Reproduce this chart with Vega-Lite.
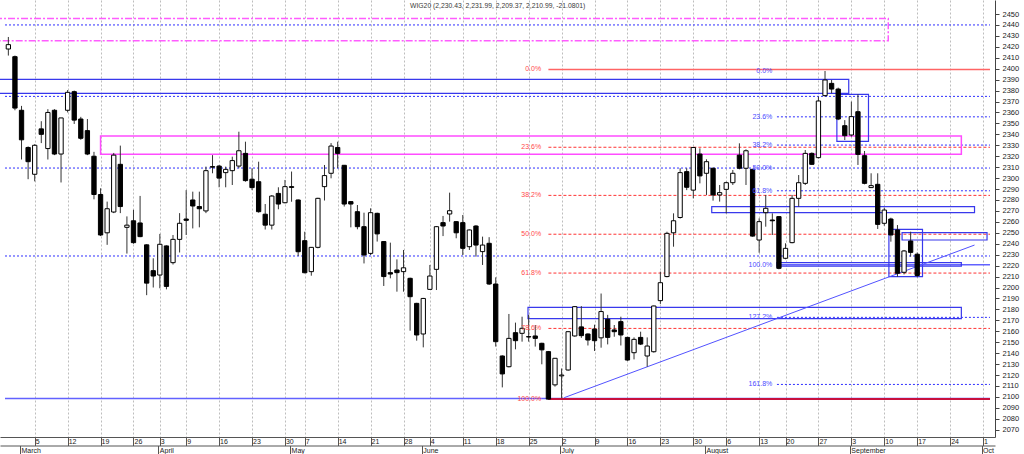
{
  "$schema": "https://vega.github.io/schema/vega-lite/v6.json",
  "width": 995,
  "height": 437,
  "autosize": {"type": "none"},
  "padding": {"left": 0, "top": 0, "right": 29, "bottom": 17},
  "background": "white",
  "config": {"view": {"stroke": null}, "font": "Liberation Sans", "axis": {"labelOverlap": false, "labelFlush": false}},
  "datasets": {
    "candles": [
      {"d": 1, "o": 2418, "h": 2429, "l": 2412, "c": 2422},
      {"d": 2, "o": 2411, "h": 2412, "l": 2362, "c": 2364},
      {"d": 3, "o": 2362, "h": 2366, "l": 2317, "c": 2335},
      {"d": 4, "o": 2328, "h": 2329, "l": 2299, "c": 2315},
      {"d": 5, "o": 2303.5, "h": 2331, "l": 2297, "c": 2330},
      {"d": 6, "o": 2345, "h": 2352, "l": 2332, "c": 2340},
      {"d": 7, "o": 2327, "h": 2363, "l": 2317, "c": 2360},
      {"d": 8, "o": 2362, "h": 2363, "l": 2321, "c": 2322},
      {"d": 9, "o": 2322, "h": 2355, "l": 2296, "c": 2355},
      {"d": 10, "o": 2362, "h": 2380.5, "l": 2360, "c": 2378.4},
      {"d": 11, "o": 2379, "h": 2380, "l": 2349.5, "c": 2353},
      {"d": 12, "o": 2354, "h": 2356, "l": 2335, "c": 2336.4},
      {"d": 13, "o": 2343.4, "h": 2354, "l": 2321, "c": 2322},
      {"d": 14, "o": 2320, "h": 2324, "l": 2280.6, "c": 2285},
      {"d": 15, "o": 2285, "h": 2290.7, "l": 2247, "c": 2248},
      {"d": 16, "o": 2250, "h": 2278.5, "l": 2239, "c": 2272},
      {"d": 17, "o": 2269, "h": 2323, "l": 2268, "c": 2321},
      {"d": 18, "o": 2312.6, "h": 2329.7, "l": 2268, "c": 2274},
      {"d": 19, "o": 2255, "h": 2265, "l": 2231, "c": 2257},
      {"d": 20, "o": 2261, "h": 2271, "l": 2240, "c": 2241},
      {"d": 21, "o": 2259, "h": 2283.7, "l": 2246, "c": 2246.5},
      {"d": 22, "o": 2239, "h": 2239.5, "l": 2193, "c": 2204},
      {"d": 23, "o": 2215.4, "h": 2226.7, "l": 2200, "c": 2210.5},
      {"d": 24, "o": 2211.4, "h": 2249, "l": 2199.3, "c": 2239.5},
      {"d": 25, "o": 2238, "h": 2238.5, "l": 2198.3, "c": 2201},
      {"d": 26, "o": 2222.7, "h": 2248, "l": 2221, "c": 2244},
      {"d": 27, "o": 2244, "h": 2268, "l": 2232, "c": 2258.7},
      {"d": 28, "o": 2262.6, "h": 2289, "l": 2248, "c": 2261.4},
      {"d": 29, "o": 2280, "h": 2287.6, "l": 2254, "c": 2274.5},
      {"d": 30, "o": 2274, "h": 2287.6, "l": 2255, "c": 2272},
      {"d": 31, "o": 2270, "h": 2310.5, "l": 2268, "c": 2306.8},
      {"d": 32, "o": 2310.5, "h": 2321, "l": 2304.4, "c": 2310},
      {"d": 33, "o": 2311, "h": 2312, "l": 2291.6, "c": 2300},
      {"d": 34, "o": 2305, "h": 2310.5, "l": 2291.6, "c": 2308},
      {"d": 35, "o": 2306.8, "h": 2319.6, "l": 2293.7, "c": 2316},
      {"d": 36, "o": 2311, "h": 2342.4, "l": 2309, "c": 2325},
      {"d": 37, "o": 2322.6, "h": 2333.3, "l": 2296.7, "c": 2297.7},
      {"d": 38, "o": 2299, "h": 2309, "l": 2289, "c": 2291.3},
      {"d": 39, "o": 2296.7, "h": 2315, "l": 2268.4, "c": 2269.3},
      {"d": 40, "o": 2267, "h": 2276.3, "l": 2253, "c": 2257},
      {"d": 41, "o": 2257, "h": 2284.5, "l": 2253, "c": 2283.6},
      {"d": 42, "o": 2286, "h": 2291.6, "l": 2271.5, "c": 2276.3},
      {"d": 43, "o": 2277.5, "h": 2298.3, "l": 2277, "c": 2292.2},
      {"d": 44, "o": 2292.2, "h": 2306, "l": 2278.4, "c": 2291.5},
      {"d": 45, "o": 2280, "h": 2280.5, "l": 2228.8, "c": 2232.7},
      {"d": 46, "o": 2242.8, "h": 2251, "l": 2213, "c": 2213.5},
      {"d": 47, "o": 2214.5, "h": 2237, "l": 2210.8, "c": 2236.7},
      {"d": 48, "o": 2236.7, "h": 2282, "l": 2235.8, "c": 2281.5},
      {"d": 49, "o": 2292.2, "h": 2312, "l": 2279.5, "c": 2302.3},
      {"d": 50, "o": 2304.4, "h": 2332, "l": 2299.8, "c": 2329.3},
      {"d": 51, "o": 2328, "h": 2333.3, "l": 2309, "c": 2322.6},
      {"d": 52, "o": 2311.7, "h": 2312, "l": 2274, "c": 2276.3},
      {"d": 53, "o": 2278.5, "h": 2279, "l": 2255, "c": 2276.3},
      {"d": 54, "o": 2269.3, "h": 2275.4, "l": 2253.2, "c": 2255.6},
      {"d": 55, "o": 2255.6, "h": 2268.4, "l": 2222, "c": 2229.7},
      {"d": 56, "o": 2231.2, "h": 2272.4, "l": 2229.7, "c": 2268.4},
      {"d": 57, "o": 2267.8, "h": 2268.4, "l": 2242, "c": 2249},
      {"d": 58, "o": 2242, "h": 2242.5, "l": 2201.4, "c": 2210},
      {"d": 59, "o": 2213.6, "h": 2241, "l": 2208.4, "c": 2212.3},
      {"d": 60, "o": 2216, "h": 2225.7, "l": 2196.2, "c": 2213.6},
      {"d": 61, "o": 2214.5, "h": 2234.3, "l": 2196.2, "c": 2218},
      {"d": 62, "o": 2208.4, "h": 2209, "l": 2160.5, "c": 2191.6},
      {"d": 63, "o": 2185.5, "h": 2186, "l": 2151.4, "c": 2156.6},
      {"d": 64, "o": 2157.5, "h": 2190.5, "l": 2145.3, "c": 2190},
      {"d": 65, "o": 2198.3, "h": 2220.6, "l": 2198, "c": 2210.5},
      {"d": 66, "o": 2216.6, "h": 2256.2, "l": 2197.7, "c": 2255.6},
      {"d": 67, "o": 2259.3, "h": 2265.4, "l": 2247, "c": 2256.2},
      {"d": 68, "o": 2267.2, "h": 2286.7, "l": 2260.2, "c": 2270.2},
      {"d": 69, "o": 2260.2, "h": 2260.5, "l": 2245, "c": 2250},
      {"d": 70, "o": 2259.3, "h": 2266.3, "l": 2229.7, "c": 2235.8},
      {"d": 71, "o": 2237.3, "h": 2253, "l": 2234.3, "c": 2252.6},
      {"d": 72, "o": 2256.2, "h": 2257, "l": 2228.2, "c": 2238.8},
      {"d": 73, "o": 2232.8, "h": 2246.5, "l": 2220.6, "c": 2238.8},
      {"d": 74, "o": 2240.4, "h": 2246, "l": 2202.3, "c": 2203.2},
      {"d": 75, "o": 2203.2, "h": 2209.3, "l": 2146, "c": 2150.5},
      {"d": 76, "o": 2137.4, "h": 2138, "l": 2108.7, "c": 2121},
      {"d": 77, "o": 2127.6, "h": 2175.8, "l": 2127, "c": 2153.5},
      {"d": 78, "o": 2158.7, "h": 2167.9, "l": 2143.5, "c": 2151.4},
      {"d": 79, "o": 2158.1, "h": 2173.3, "l": 2150.5, "c": 2162.7},
      {"d": 80, "o": 2155.1, "h": 2175, "l": 2150.5, "c": 2154.8},
      {"d": 81, "o": 2155.7, "h": 2165.7, "l": 2146, "c": 2153.5},
      {"d": 82, "o": 2149, "h": 2149.5, "l": 2129.8, "c": 2143},
      {"d": 83, "o": 2141.4, "h": 2142, "l": 2097.5, "c": 2098},
      {"d": 84, "o": 2111, "h": 2135.5, "l": 2109.4, "c": 2135.3},
      {"d": 85, "o": 2119.2, "h": 2126, "l": 2099, "c": 2120},
      {"d": 86, "o": 2124.6, "h": 2160, "l": 2124, "c": 2159.6},
      {"d": 87, "o": 2155.7, "h": 2183, "l": 2155, "c": 2182.5},
      {"d": 88, "o": 2164, "h": 2183, "l": 2154, "c": 2156},
      {"d": 89, "o": 2157.5, "h": 2158, "l": 2147, "c": 2152},
      {"d": 90, "o": 2162, "h": 2166, "l": 2142, "c": 2151.4},
      {"d": 91, "o": 2154, "h": 2194.5, "l": 2145, "c": 2178},
      {"d": 92, "o": 2171, "h": 2175, "l": 2148, "c": 2154.4},
      {"d": 93, "o": 2161.2, "h": 2165.7, "l": 2155, "c": 2159.6},
      {"d": 94, "o": 2168.8, "h": 2173.3, "l": 2147, "c": 2156.6},
      {"d": 95, "o": 2154.4, "h": 2155, "l": 2133, "c": 2133.7},
      {"d": 96, "o": 2140.4, "h": 2154.4, "l": 2134.3, "c": 2152.6},
      {"d": 97, "o": 2154.4, "h": 2159.6, "l": 2147.4, "c": 2148.3},
      {"d": 98, "o": 2137.4, "h": 2154.4, "l": 2127.6, "c": 2146.5},
      {"d": 99, "o": 2141.3, "h": 2183.5, "l": 2140.5, "c": 2183.1},
      {"d": 100, "o": 2188, "h": 2214.5, "l": 2185, "c": 2204.4},
      {"d": 101, "o": 2210, "h": 2251, "l": 2209.3, "c": 2249.5},
      {"d": 102, "o": 2250, "h": 2267.8, "l": 2237.3, "c": 2261},
      {"d": 103, "o": 2264, "h": 2309, "l": 2263, "c": 2305},
      {"d": 104, "o": 2305.9, "h": 2309, "l": 2289, "c": 2291.6},
      {"d": 105, "o": 2289, "h": 2328.5, "l": 2281.5, "c": 2328},
      {"d": 106, "o": 2322, "h": 2327.2, "l": 2295.2, "c": 2302},
      {"d": 107, "o": 2304.4, "h": 2317.2, "l": 2284.6, "c": 2315},
      {"d": 108, "o": 2309, "h": 2309.5, "l": 2279.4, "c": 2284.6},
      {"d": 109, "o": 2284.6, "h": 2293.7, "l": 2278.5, "c": 2286.7},
      {"d": 110, "o": 2289.7, "h": 2296.7, "l": 2267.8, "c": 2295.8},
      {"d": 111, "o": 2295.8, "h": 2307.4, "l": 2293.7, "c": 2304.4},
      {"d": 112, "o": 2321, "h": 2331.8, "l": 2308, "c": 2309},
      {"d": 113, "o": 2309, "h": 2326.3, "l": 2293.7, "c": 2325},
      {"d": 114, "o": 2308, "h": 2308.5, "l": 2246.5, "c": 2247},
      {"d": 115, "o": 2243.4, "h": 2263.2, "l": 2231.8, "c": 2260.2},
      {"d": 116, "o": 2268.4, "h": 2284.6, "l": 2255.6, "c": 2272.4},
      {"d": 117, "o": 2261.7, "h": 2267.8, "l": 2248, "c": 2261},
      {"d": 118, "o": 2264.8, "h": 2265, "l": 2216.6, "c": 2217.5},
      {"d": 119, "o": 2226.7, "h": 2240.4, "l": 2225.8, "c": 2235.8},
      {"d": 120, "o": 2241, "h": 2284.6, "l": 2240.4, "c": 2281.5},
      {"d": 121, "o": 2281.5, "h": 2302.8, "l": 2273.9, "c": 2295.8},
      {"d": 122, "o": 2295.2, "h": 2325.7, "l": 2293.7, "c": 2322.6},
      {"d": 123, "o": 2322.6, "h": 2323.5, "l": 2312, "c": 2312.6},
      {"d": 124, "o": 2318.7, "h": 2374.5, "l": 2318, "c": 2370.5},
      {"d": 125, "o": 2375.4, "h": 2397.9, "l": 2374.5, "c": 2389.7},
      {"d": 126, "o": 2386.6, "h": 2389.7, "l": 2377.5, "c": 2381.4},
      {"d": 127, "o": 2381.4, "h": 2382.7, "l": 2353, "c": 2354},
      {"d": 128, "o": 2347.9, "h": 2353, "l": 2334.8, "c": 2338.8},
      {"d": 129, "o": 2339.4, "h": 2369.9, "l": 2337.9, "c": 2356.2},
      {"d": 130, "o": 2360.7, "h": 2376.6, "l": 2312, "c": 2321.7},
      {"d": 131, "o": 2320.5, "h": 2324.8, "l": 2294.3, "c": 2295.2},
      {"d": 132, "o": 2291.3, "h": 2304.4, "l": 2291, "c": 2293.1},
      {"d": 133, "o": 2294.3, "h": 2304.4, "l": 2253.5, "c": 2257.7},
      {"d": 134, "o": 2258.7, "h": 2273, "l": 2256.5, "c": 2270.8},
      {"d": 135, "o": 2262.6, "h": 2263.8, "l": 2241.9, "c": 2248},
      {"d": 136, "o": 2252.6, "h": 2257.1, "l": 2209.9, "c": 2213},
      {"d": 137, "o": 2213.9, "h": 2234.3, "l": 2212, "c": 2233.4},
      {"d": 138, "o": 2242.5, "h": 2251, "l": 2228.2, "c": 2232.1},
      {"d": 139, "o": 2230.43, "h": 2231.99, "l": 2209.37, "c": 2210.99}
    ],
    "blueDotted": [
      {"p": 2440, "d": 0.49, "d2": 150.05},
      {"p": 2374.7, "d": 0.49, "d2": 150.05},
      {"p": 2309.2, "d": 0.49, "d2": 150.05},
      {"p": 2228.8, "d": 0.49, "d2": 150.05},
      {"p": 2356.0, "d": 117.7, "d2": 150.05},
      {"p": 2330.2, "d": 117.7, "d2": 150.05},
      {"p": 2288.4, "d": 117.7, "d2": 150.05},
      {"p": 2172.7, "d": 117.7, "d2": 150.05},
      {"p": 2111.4, "d": 117.7, "d2": 150.05}
    ],
    "redDashed": [
      {"p": 2328.2, "d": 83, "d2": 150.05},
      {"p": 2284.2, "d": 83, "d2": 150.05},
      {"p": 2248.7, "d": 83, "d2": 150.05},
      {"p": 2213.2, "d": 83, "d2": 150.05},
      {"p": 2162.6, "d": 83, "d2": 150.05}
    ],
    "blueSolid": [
      {"p": 2098.6, "d": 0.49, "d2": 150.05},
      {"p": 2220.8, "d": 117.7, "d2": 150.05}
    ],
    "redTop": [{"p": 2399.3, "d": 83, "d2": 150.05}],
    "redBottom": [{"p": 2098.1, "d": 83, "d2": 150.05}],
    "blueBoxes": [
      {"d": -3, "d2": 128.6, "p": 2377.5, "p2": 2390.3},
      {"d": 79.9, "d2": 145.7, "p": 2171.5, "p2": 2181.9},
      {"d": 107.8, "d2": 147.7, "p": 2268.4, "p2": 2273.9},
      {"d": 126.8, "d2": 131.6, "p": 2333.6, "p2": 2376.6},
      {"d": 134.7, "d2": 139.8, "p": 2209.9, "p2": 2253.2},
      {"d": 136.7, "d2": 149.6, "p": 2243.4, "p2": 2250.1},
      {"d": 117.7, "d2": 145.7, "p": 2219.6, "p2": 2222.7}
    ],
    "magentaBox": [{"d": 15.0, "d2": 145.7, "p": 2321.8, "p2": 2338.5}],
    "magentaDashBox": [{"d": -3, "d2": 134.6, "p": 2425.6, "p2": 2445.9}],
    "trend": [{"d": 85.4, "p": 2099.3, "d2": 147.7, "p2": 2238.8}],
    "redLabels": [
      {"d": 81.9, "p": 2399.3, "t": "0.0%"},
      {"d": 81.9, "p": 2328.2, "t": "23.6%"},
      {"d": 81.9, "p": 2284.2, "t": "38.2%"},
      {"d": 81.9, "p": 2248.7, "t": "50.0%"},
      {"d": 81.9, "p": 2213.2, "t": "61.8%"},
      {"d": 81.9, "p": 2162.6, "t": "78.6%"},
      {"d": 81.9, "p": 2098.1, "t": "100.0%"}
    ],
    "blueLabels": [
      {"d": 117.0, "p": 2397.8, "t": "0.0%"},
      {"d": 117.0, "p": 2356.0, "t": "23.6%"},
      {"d": 117.0, "p": 2330.2, "t": "38.2%"},
      {"d": 117.0, "p": 2309.3, "t": "50.0%"},
      {"d": 117.0, "p": 2288.4, "t": "61.8%"},
      {"d": 117.0, "p": 2220.8, "t": "100.0%"},
      {"d": 117.0, "p": 2172.7, "t": "127.2%"},
      {"d": 117.0, "p": 2111.4, "t": "161.8%"}
    ],
    "heading": [{"d": 75.3, "p": 2457.3, "t": "WIG20 (2,230.43, 2,231.99, 2,209.37, 2,210.99, -21.0801)"}],
    "months": [
      {"d": 3, "t": "March"}, {"d": 24, "t": "April"}, {"d": 44, "t": "May"},
      {"d": 64, "t": "June"}, {"d": 85, "t": "July"}, {"d": 107, "t": "August"},
      {"d": 129, "t": "September"}, {"d": 149, "t": "Oct"}
    ]
  },
  "layer": [
    {
      "layer": [
        {
          "data": {"name": "blueDotted"},
          "mark": {"type": "rule", "color": "#2f2fff", "strokeWidth": 1, "strokeDash": [2, 2]},
          "encoding": {
            "x": {
              "field": "d", "type": "quantitative", "title": null,
              "scale": {"domain": [0.49, 150.05], "nice": false, "zero": false},
              "axis": {
                "orient": "bottom", "title": null, "tickCount": 500,
                "values": [5, 10, 15, 20, 24, 28, 33, 38, 43, 46, 51, 56, 61, 65, 70, 75, 80, 85, 90, 95, 100, 105, 110, 115, 119, 124, 129, 134, 139, 144, 149],
                "labelExpr": "['5','12','19','26','3','9','16','23','30','7','14','21','28','4','11','18','25','2','9','16','23','30','6','13','20','27','3','10','17','24','1'][indexof([5,10,15,20,24,28,33,38,43,46,51,56,61,65,70,75,80,85,90,95,100,105,110,115,119,124,129,134,139,144,149], datum.value)]",
                "grid": true, "gridDash": [2, 2], "gridColor": "#bdbdbd", "gridWidth": 1,
                "tickSize": 8.5, "tickColor": "#555555", "domainColor": "#555555",
                "labelAlign": "left", "labelBaseline": "middle", "labelPadding": -4.5, "labelOffset": 0.5,
                "labelFontSize": 7, "labelColor": "#222222", "labelFlush": false, "labelOverlap": false
              }
            },
            "x2": {"field": "d2"},
            "y": {
              "field": "p", "type": "quantitative", "title": null,
              "scale": {"domain": [2063.35, 2462.8], "nice": false, "zero": false},
              "axis": {
                "orient": "right", "title": null, "grid": false, "format": "d", "tickCount": 500,
                "values": [2070, 2080, 2090, 2100, 2110, 2120, 2130, 2140, 2150, 2160, 2170, 2180, 2190, 2200, 2210, 2220, 2230, 2240, 2250, 2260, 2270, 2280, 2290, 2300, 2310, 2320, 2330, 2340, 2350, 2360, 2370, 2380, 2390, 2400, 2410, 2420, 2430, 2440, 2450],
                "tickSize": 4, "tickColor": "#444444", "domainColor": "#444444",
                "labelPadding": 3, "labelFontSize": 7.5, "labelColor": "#222222",
                "labelFlush": false, "labelOverlap": false
              }
            }
          }
        },
        {
          "data": {"name": "redDashed"},
          "mark": {"type": "rule", "color": "#ff3434", "strokeWidth": 1, "strokeDash": [3, 2]},
          "encoding": {
            "x": {"field": "d", "type": "quantitative", "title": null, "scale": {"domain": [0.49, 150.05], "nice": false, "zero": false}},
            "x2": {"field": "d2"},
            "y": {"field": "p", "type": "quantitative", "title": null, "scale": {"domain": [2063.35, 2462.8], "nice": false, "zero": false}}
          }
        },
        {
          "data": {"name": "blueSolid"},
          "mark": {"type": "rule", "color": "#6262ff", "strokeWidth": 1.5},
          "encoding": {
            "x": {"field": "d", "type": "quantitative", "title": null, "scale": {"domain": [0.49, 150.05], "nice": false, "zero": false}},
            "x2": {"field": "d2"},
            "y": {"field": "p", "type": "quantitative", "title": null, "scale": {"domain": [2063.35, 2462.8], "nice": false, "zero": false}}
          }
        },
        {
          "data": {"name": "redTop"},
          "mark": {"type": "rule", "color": "#ff6464", "strokeWidth": 1.5},
          "encoding": {
            "x": {"field": "d", "type": "quantitative", "title": null, "scale": {"domain": [0.49, 150.05], "nice": false, "zero": false}},
            "x2": {"field": "d2"},
            "y": {"field": "p", "type": "quantitative", "title": null, "scale": {"domain": [2063.35, 2462.8], "nice": false, "zero": false}}
          }
        },
        {
          "data": {"name": "redBottom"},
          "mark": {"type": "rule", "color": "#c8103e", "strokeWidth": 2},
          "encoding": {
            "x": {"field": "d", "type": "quantitative", "title": null, "scale": {"domain": [0.49, 150.05], "nice": false, "zero": false}},
            "x2": {"field": "d2"},
            "y": {"field": "p", "type": "quantitative", "title": null, "scale": {"domain": [2063.35, 2462.8], "nice": false, "zero": false}}
          }
        },
        {
          "data": {"name": "magentaDashBox"},
          "mark": {"type": "rect", "filled": false, "color": "#ff5cff", "strokeWidth": 1.5, "strokeDash": [7, 2, 2, 2], "clip": true},
          "encoding": {
            "x": {"field": "d", "type": "quantitative", "title": null, "scale": {"domain": [0.49, 150.05], "nice": false, "zero": false}},
            "x2": {"field": "d2"},
            "y": {"field": "p", "type": "quantitative", "title": null, "scale": {"domain": [2063.35, 2462.8], "nice": false, "zero": false}},
            "y2": {"field": "p2"}
          }
        },
        {
          "data": {"name": "magentaBox"},
          "mark": {"type": "rect", "filled": false, "color": "#ff4cff", "strokeWidth": 1.5, "clip": true},
          "encoding": {
            "x": {"field": "d", "type": "quantitative", "title": null, "scale": {"domain": [0.49, 150.05], "nice": false, "zero": false}},
            "x2": {"field": "d2"},
            "y": {"field": "p", "type": "quantitative", "title": null, "scale": {"domain": [2063.35, 2462.8], "nice": false, "zero": false}},
            "y2": {"field": "p2"}
          }
        },
        {
          "data": {"name": "blueBoxes"},
          "mark": {"type": "rect", "filled": false, "color": "#3838ec", "strokeWidth": 1.2, "clip": true},
          "encoding": {
            "x": {"field": "d", "type": "quantitative", "title": null, "scale": {"domain": [0.49, 150.05], "nice": false, "zero": false}},
            "x2": {"field": "d2"},
            "y": {"field": "p", "type": "quantitative", "title": null, "scale": {"domain": [2063.35, 2462.8], "nice": false, "zero": false}},
            "y2": {"field": "p2"}
          }
        },
        {
          "data": {"name": "trend"},
          "mark": {"type": "rule", "color": "#5252ff", "strokeWidth": 1},
          "encoding": {
            "x": {"field": "d", "type": "quantitative", "title": null, "scale": {"domain": [0.49, 150.05], "nice": false, "zero": false}},
            "x2": {"field": "d2"},
            "y": {"field": "p", "type": "quantitative", "title": null, "scale": {"domain": [2063.35, 2462.8], "nice": false, "zero": false}},
            "y2": {"field": "p2"}
          }
        },
        {
          "data": {"name": "candles"},
          "mark": {"type": "rule", "color": "#333333", "strokeWidth": 1},
          "encoding": {
            "x": {"field": "d", "type": "quantitative", "title": null, "scale": {"domain": [0.49, 150.05], "nice": false, "zero": false}},
            "y": {"field": "l", "type": "quantitative", "title": null, "scale": {"domain": [2063.35, 2462.8], "nice": false, "zero": false}},
            "y2": {"field": "h"}
          }
        },
        {
          "data": {"name": "candles"},
          "mark": {"type": "bar", "width": 4.3, "stroke": "#000000", "strokeWidth": 1},
          "encoding": {
            "x": {"field": "d", "type": "quantitative", "title": null, "scale": {"domain": [0.49, 150.05], "nice": false, "zero": false}},
            "y": {"field": "o", "type": "quantitative", "title": null, "scale": {"domain": [2063.35, 2462.8], "nice": false, "zero": false}},
            "y2": {"field": "c"},
            "fill": {"condition": {"test": "datum.c < datum.o", "value": "#000000"}, "value": "#ffffff"}
          }
        },
        {
          "data": {"name": "redLabels"},
          "mark": {"type": "text", "align": "right", "baseline": "middle", "fontSize": 7, "color": "#ff4a4a"},
          "encoding": {
            "x": {"field": "d", "type": "quantitative", "title": null, "scale": {"domain": [0.49, 150.05], "nice": false, "zero": false}},
            "y": {"field": "p", "type": "quantitative", "title": null, "scale": {"domain": [2063.35, 2462.8], "nice": false, "zero": false}},
            "text": {"field": "t"}
          }
        },
        {
          "data": {"name": "blueLabels"},
          "mark": {"type": "text", "align": "right", "baseline": "middle", "fontSize": 7, "color": "#4a4aff"},
          "encoding": {
            "x": {"field": "d", "type": "quantitative", "title": null, "scale": {"domain": [0.49, 150.05], "nice": false, "zero": false}},
            "y": {"field": "p", "type": "quantitative", "title": null, "scale": {"domain": [2063.35, 2462.8], "nice": false, "zero": false}},
            "text": {"field": "t"}
          }
        },
        {
          "data": {"name": "heading"},
          "mark": {"type": "text", "align": "center", "baseline": "middle", "fontSize": 6.8, "color": "#3a3a3a"},
          "encoding": {
            "x": {"field": "d", "type": "quantitative", "title": null, "scale": {"domain": [0.49, 150.05], "nice": false, "zero": false}},
            "y": {"field": "p", "type": "quantitative", "title": null, "scale": {"domain": [2063.35, 2462.8], "nice": false, "zero": false}},
            "text": {"field": "t"}
          }
        }
      ]
    },
    {
      "data": {"name": "months"},
      "mark": {"type": "point", "opacity": 0},
      "encoding": {
        "x": {
          "field": "d", "type": "quantitative", "title": null,
          "scale": {"domain": [0.49, 150.05], "nice": false, "zero": false},
          "axis": {
            "orient": "bottom", "offset": 8.5, "title": null, "grid": false, "tickCount": 500,
            "values": [3, 24, 44, 64, 85, 107, 129, 149],
            "labelExpr": "['March','April','May','June','July','August','September','Oct'][indexof([3,24,44,64,85,107,129,149], datum.value)]",
            "tickSize": 9, "tickColor": "#555555", "domainColor": "#555555", "tickOffset": -1.5,
            "labelAlign": "left", "labelBaseline": "middle", "labelPadding": -4.5, "labelOffset": 1,
            "labelFontSize": 7, "labelColor": "#222222", "labelFlush": false, "labelOverlap": false
          }
        }
      }
    }
  ],
  "resolve": {"axis": {"x": "independent"}}
}
